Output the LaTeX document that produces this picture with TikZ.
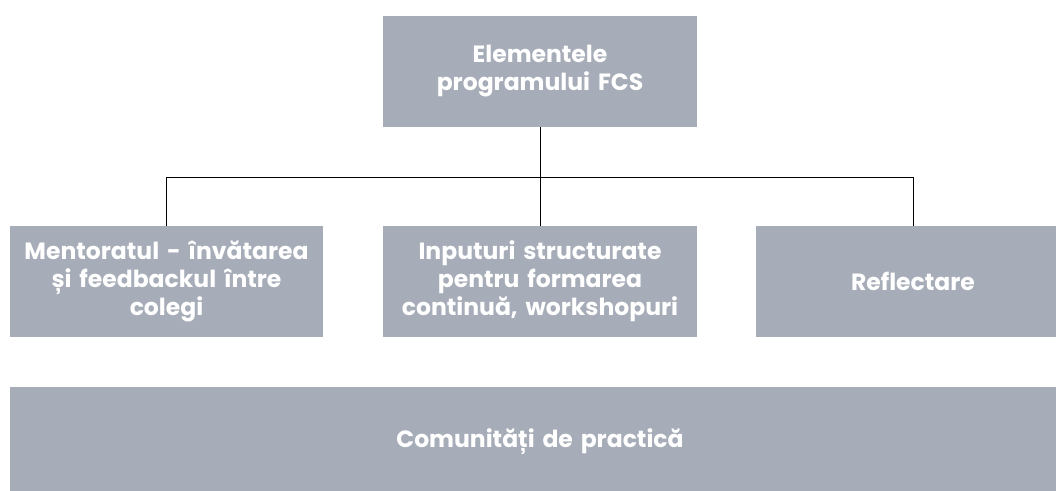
\documentclass[tikz,border=0pt]{standalone}
\usepackage{fontspec}
\setmainfont{Poppins}
\begin{document}
\begin{tikzpicture}[x=1pt,y=-1pt,line cap=butt,line join=miter]
				\tikzset{elem/.style={fill=boxgray,text=white,font=\bfseries\fontsize{23.5}{28}\selectfont,
						align=center,inner sep=0pt,minimum height=111pt},
					leg/.style={black,line width=0.9pt}
				}
				\definecolor{boxgray}{HTML}{A7ADB8}
				\useasboundingbox (0,0) rectangle (1056,490);
				\clip (0,0) rectangle (1056,490);
				\node[elem,minimum width=314pt,text width=310pt] (top) at (540,71.5) {Elementele\\programului FCS};
				\node[elem,minimum width=313pt,text width=310pt] (ment) at (166.5,281.5) {Mentoratul - învătarea\\și feedbackul între\\colegi};
				\node[elem,minimum width=314pt,text width=310pt] (inp) at (540,281.5) {Inputuri structurate\\pentru formarea\\continuă, workshopuri};
				\node[elem,minimum width=314pt,text width=310pt] (refl) at (913,281.5) {Reflectare};
				\node[elem,minimum width=1060pt,text width=900pt] (com) at (540,442) {Comunități de practică};
				\coordinate (bus) at (540,177);
				\draw[leg] (top.south)--(inp.north);
				\draw[leg] (bus)-|(ment.north) (bus)-|(refl.north);
			\end{tikzpicture}
\end{document}
